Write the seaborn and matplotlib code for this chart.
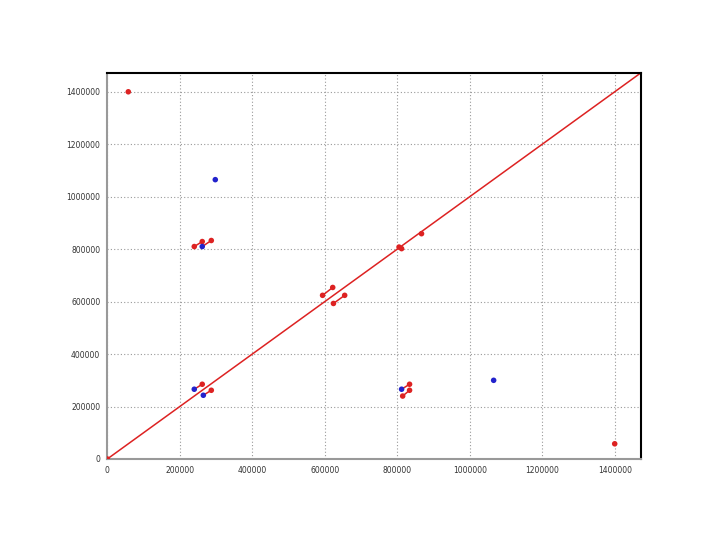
import numpy as np
import pandas as pd
import matplotlib
matplotlib.use("Agg")
import matplotlib.pyplot as plt
import seaborn as sns

# Points
red_x = [0, 58000, 1400000, 240000, 262000, 287000, 834000, 815000, 834000,
         262000, 287000, 594000, 622000, 624000, 655000, 805000, 812000, 867000]
red_y = [0, 1400000, 58000, 810000, 829000, 833000, 285000, 240000, 262000,
         285000, 262000, 624000, 654000, 593000, 624000, 808000, 802000, 859000]

blue_x = [298000, 1066000, 262000, 812000, 240000, 265000]
blue_y = [1065000, 300000, 810000, 266000, 266000, 243000]

# Short connecting segments (start -> end)
seg_x0 = [240000, 262000, 594000, 624000, 812000, 815000, 240000, 265000]
seg_y0 = [810000, 810000, 624000, 593000, 266000, 240000, 266000, 243000]
seg_x1 = [262000, 287000, 622000, 655000, 834000, 834000, 262000, 287000]
seg_y1 = [829000, 833000, 654000, 624000, 285000, 262000, 285000, 262000]

ticks = list(range(0, 1400001, 200000))
axis_max = 1472000

RED = "#dd2222"
BLUE = "#2222cc"


def build_points():
    df_red = pd.DataFrame({"x": red_x, "y": red_y, "group": "red"})
    df_blue = pd.DataFrame({"x": blue_x, "y": blue_y, "group": "blue"})
    return pd.concat([df_red, df_blue], ignore_index=True)


def build_segments():
    rows = []
    for i in range(len(seg_x0)):
        rows.append({"seg": i, "x": seg_x0[i], "y": seg_y0[i]})
        rows.append({"seg": i, "x": seg_x1[i], "y": seg_y1[i]})
    return pd.DataFrame(rows)


def main():
    sns.set_style("white")
    fig = plt.figure(figsize=(7.2, 5.4), dpi=100)
    ax = fig.add_axes([0.149, 0.150, 0.741, 0.715])

    # Grid
    ax.grid(True, linestyle=(0, (1, 2)), color="#999999", linewidth=0.8)
    ax.set_axisbelow(True)

    # Diagonal reference line y = x
    ax.axline((0, 0), slope=1, color=RED, linewidth=1.1, zorder=2)

    segs = build_segments()
    sns.lineplot(data=segs, x="x", y="y", units="seg", estimator=None,
                 color=RED, linewidth=1.1, ax=ax, sort=False, zorder=3)

    pts = build_points()
    sns.scatterplot(data=pts, x="x", y="y", hue="group",
                    palette={"red": RED, "blue": BLUE}, s=16,
                    edgecolor="none", legend=False, ax=ax, zorder=4)

    ax.set_xlim(0, axis_max)
    ax.set_ylim(0, axis_max)
    ax.set_xticks(ticks)
    ax.set_yticks(ticks)
    ax.set_xticklabels([str(t) for t in ticks])
    ax.set_yticklabels([str(t) for t in ticks])
    ax.tick_params(labelsize=5.5, colors="#333333", length=2, width=0.6,
                   color="#888888", pad=3)
    ax.set_xlabel("")
    ax.set_ylabel("")

    for side in ["left", "bottom"]:
        ax.spines[side].set_color("#999999")
        ax.spines[side].set_linewidth(1.5)
    for side in ["top", "right"]:
        ax.spines[side].set_color("black")
        ax.spines[side].set_linewidth(1.5)

    fig.savefig("out.png", dpi=100)


if __name__ == "__main__":
    main()
